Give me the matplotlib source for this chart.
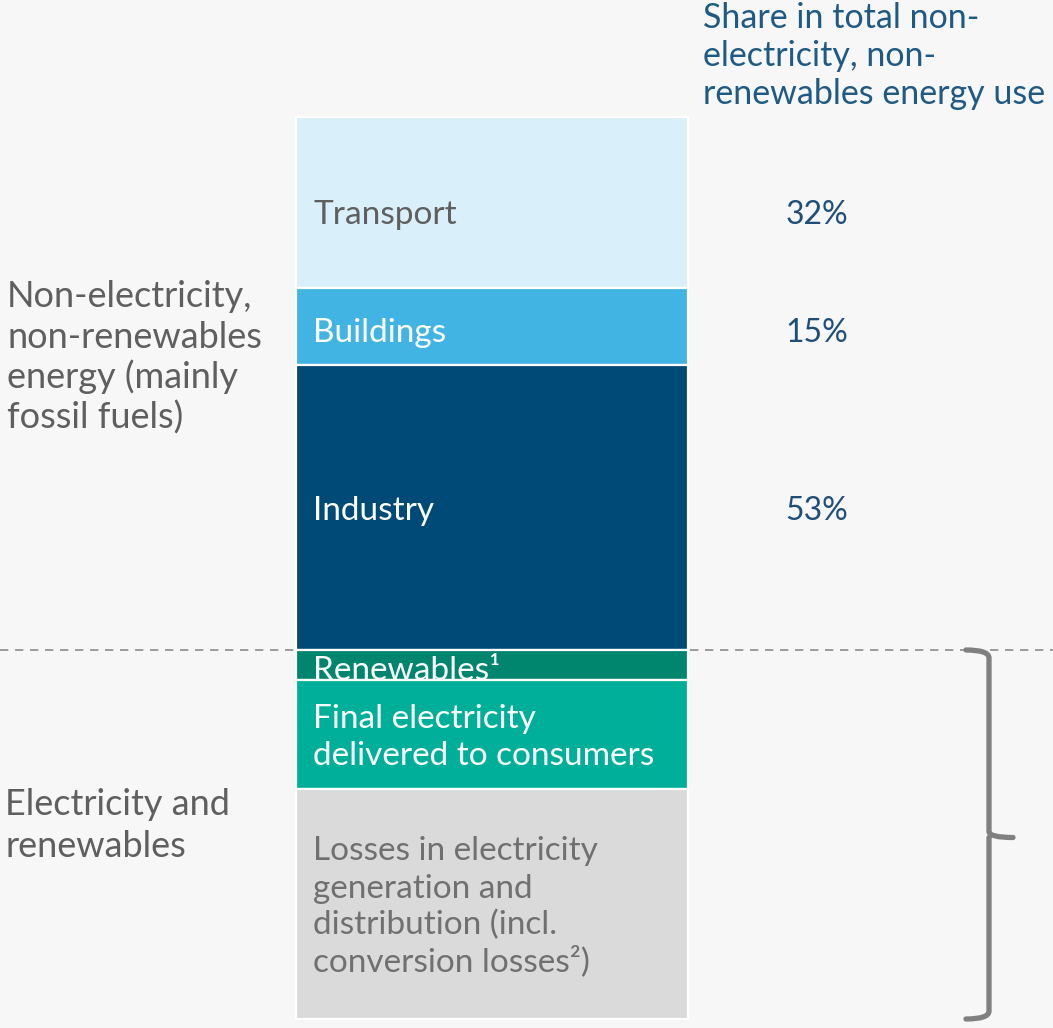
import matplotlib.pyplot as plt
from matplotlib.path import Path
from matplotlib.patches import PathPatch

plt.rcParams['font.family'] = ['Lato', 'DejaVu Sans']

# segment sizes (top to bottom), same units as the picture height
segments = ['Transport', 'Buildings', 'Industry', 'Renewables', 'Final electricity', 'Losses']
labels = [['Transport'], ['Buildings'], ['Industry'], ['Renewables\u00b9'],
          ['Final electricity', 'delivered to consumers'],
          ['Losses in electricity', 'generation and', 'distribution (incl.',
           'conversion losses\u00b2)']]
sizes = [171, 77, 285, 30, 109, 230]
colors = ['#d9eff9', '#41b4e4', '#004a77', '#00856f', '#00af9a', '#dadada']
label_colors = ['#5f5f5f', 'white', 'white', 'white', 'white', '#707070']
shares = ['32%', '15%', '53%']
header = ['Share in total non-', 'electricity, non-', 'renewables energy use']
left_top = ['Non-electricity,', 'non-renewables', 'energy (mainly', 'fossil fuels)']
left_bottom = ['Electricity and', 'renewables']

bg = '#f7f7f7'
fig = plt.figure(figsize=(10.53, 10.28), dpi=100, facecolor=bg)
ax = fig.add_axes([0, 0, 1, 1])
ax.set_facecolor(bg)
ax.set_xlim(0, 1053)
ax.set_ylim(1028, 0)
ax.axis('off')


def lines(x, y0, rows, step, **kw):
    # one text per row, y0 is the baseline of the first row
    for k, r in enumerate(rows):
        ax.text(x, y0 + k * step, r, va='baseline', **kw)


top = 117
x0, x1 = 296, 688
bottoms = []
b = top
for s in sizes:
    bottoms.append(b)
    b += s

ax.bar((x0 + x1) / 2, sizes, width=x1 - x0, bottom=bottoms, color=colors,
       edgecolor='white', linewidth=1.6, zorder=3)

# dashed divider between fossil and electricity groups
split = bottoms[3]
ax.axhline(split, color='#8c8c8c', lw=1.2, ls=(0, (5, 4)), zorder=1)

step = 37
cap = 24
nudge = [9, 3, 0, 3, 0, 0]
for i, lab in enumerate(labels):
    yc = bottoms[i] + sizes[i] / 2 + nudge[i]
    first = yc - (len(lab) - 1) * step / 2 + cap / 2
    lines(313, first, lab, step, color=label_colors[i], fontsize=24,
          ha='left', zorder=4)

for i, sh in enumerate(shares):
    yc = bottoms[i] + sizes[i] / 2 + nudge[i]
    ax.text(817, yc + cap / 2, sh, color='#1f4e79', fontsize=23,
            va='baseline', ha='center')

lines(703, 28, header, 38, color='#1f5a85', fontsize=24.5, ha='left')
lines(7, 307, left_top, 40.5, color='#5f5f5f', fontsize=26, ha='left')
lines(5, 815, left_bottom, 42, color='#5f5f5f', fontsize=26, ha='left')

# curly brace spanning the electricity + renewables group
y_top = split
y_bot = bottoms[-1] + sizes[-1]
y_mid = (y_top + y_bot) / 2 + 3
xv, xl, xt = 989, 966, 1013
verts = [(xl, y_top), (xv, y_top), (xv, y_top + 8),
         (xv, y_mid - 6), (xv, y_mid), (xt, y_mid),
         (xv, y_mid), (xv, y_mid + 6),
         (xv, y_bot - 8), (xv, y_bot), (xl, y_bot)]
codes = [Path.MOVETO, Path.CURVE3, Path.CURVE3,
         Path.LINETO, Path.CURVE3, Path.LINETO,
         Path.MOVETO, Path.CURVE3,
         Path.LINETO, Path.CURVE3, Path.CURVE3]
ax.add_patch(PathPatch(Path(verts, codes), fill=False, edgecolor='#808080',
                       lw=3.8, capstyle='round', joinstyle='round', zorder=4))

fig.savefig('out.png', dpi=100, facecolor=bg)
